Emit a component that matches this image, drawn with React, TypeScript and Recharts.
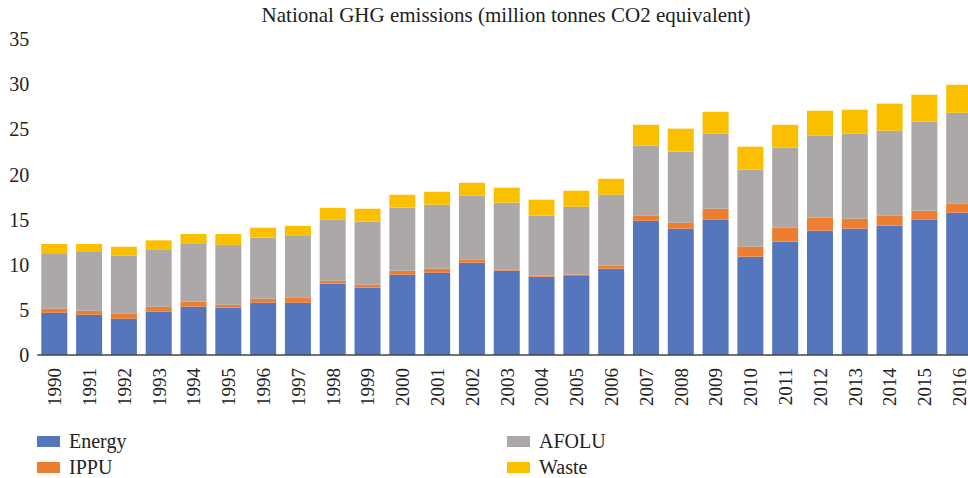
import { BarChart, Bar, XAxis, YAxis } from 'recharts';

const years = [
  '1990', '1991', '1992', '1993', '1994', '1995', '1996', '1997', '1998', '1999',
  '2000', '2001', '2002', '2003', '2004', '2005', '2006', '2007', '2008', '2009',
  '2010', '2011', '2012', '2013', '2014', '2015', '2016'
];

// layer thickness per sector, million tonnes CO2e
const energy = [
  4.68, 4.46, 4.02, 4.79, 5.35, 5.24, 5.79, 5.79, 7.9, 7.49,
  8.89, 9.11, 10.22, 9.34, 8.67, 8.82, 9.56, 14.87, 13.99, 14.98,
  10.89, 12.55, 13.77, 13.99, 14.32, 14.98, 15.76
];
const ippu = [
  0.45, 0.44, 0.55, 0.56, 0.55, 0.33, 0.45, 0.59, 0.33, 0.29,
  0.44, 0.45, 0.37, 0.14, 0.15, 0.11, 0.36, 0.56, 0.66, 1.22,
  1.11, 1.55, 1.43, 1.1, 1.11, 1.0, 1.03
];
const afolu = [
  6.07, 6.6, 6.43, 6.35, 6.4, 6.63, 6.76, 6.87, 6.77, 7.02,
  7.02, 7.08, 7.08, 7.39, 6.61, 7.49, 7.83, 7.77, 7.9, 8.34,
  8.55, 8.89, 9.1, 9.45, 9.41, 9.86, 10.04
];
const waste = [
  1.1, 0.8, 1.0, 1.0, 1.1, 1.2, 1.1, 1.05, 1.3, 1.4,
  1.4, 1.44, 1.41, 1.66, 1.77, 1.78, 1.77, 2.3, 2.52, 2.4,
  2.52, 2.51, 2.76, 2.63, 3.0, 2.99, 3.1
];
const yTicks = [0, 5, 10, 15, 20, 25, 30, 35];

const series = [
  { key: 'Energy', color: '#5575bc' },
  { key: 'IPPU', color: '#ed7d31' },
  { key: 'AFOLU', color: '#aca8a7' },
  { key: 'Waste', color: '#fac000' },
];

const data = years.map((year, i) => ({
  year,
  Energy: energy[i],
  IPPU: ippu[i],
  AFOLU: afolu[i],
  Waste: waste[i],
}));

const FONT = '"Liberation Serif", "DejaVu Serif", serif';

const YearTick = ({ x, y, payload }: any) => (
  <g transform={`translate(${x},${y})`}>
    <text
      transform="rotate(-90)"
      textAnchor="end"
      dominantBaseline="central"
      fill="#222"
      fontSize={19}
      fontFamily={FONT}
    >
      {payload.value}
    </text>
  </g>
);

const legendPos = [
  { left: 37, top: 431 },
  { left: 37, top: 457 },
  { left: 507, top: 431 },
  { left: 507, top: 457 },
];

export default function App() {
  return (
    <div
      style={{
        position: 'absolute',
        left: 0,
        top: 0,
        width: 968,
        height: 478,
        overflow: 'hidden',
        background: '#fff',
        fontFamily: FONT,
      }}
    >
      <div
        style={{
          position: 'absolute',
          top: 3,
          left: 0,
          width: 1012,
          textAlign: 'center',
          fontSize: 21,
          color: '#222',
        }}
      >
        National GHG emissions (million tonnes CO2 equivalent)
      </div>
      <BarChart
        width={980}
        height={478}
        data={data}
        margin={{ top: 39, right: 3, left: 0, bottom: 63 }}
      >
        <XAxis
          dataKey="year"
          axisLine={{ stroke: '#444', strokeWidth: 1.5 }}
          tickLine={false}
          tickMargin={7}
          tick={<YearTick />}
          interval={0}
          height={60}
        />
        <YAxis
          width={37.3}
          domain={[0, 35]}
          ticks={yTicks}
          axisLine={false}
          tickLine={false}
          tick={{ fill: '#222', fontSize: 20, fontFamily: FONT }}
        />
        {series.map((s) => (
          <Bar
            key={s.key}
            dataKey={s.key}
            stackId="a"
            fill={s.color}
            barSize={26}
            isAnimationActive={false}
          />
        ))}
      </BarChart>
      {series.map((s, i) => (
        <div
          key={s.key}
          style={{
            position: 'absolute',
            left: legendPos[i].left,
            top: legendPos[i].top,
            display: 'flex',
            alignItems: 'center',
            fontSize: 20,
            lineHeight: '20px',
            color: '#222',
          }}
        >
          <span
            style={{
              display: 'inline-block',
              width: 23,
              height: 11,
              background: s.color,
              marginRight: 9,
            }}
          />
          {s.key}
        </div>
      ))}
    </div>
  );
}
